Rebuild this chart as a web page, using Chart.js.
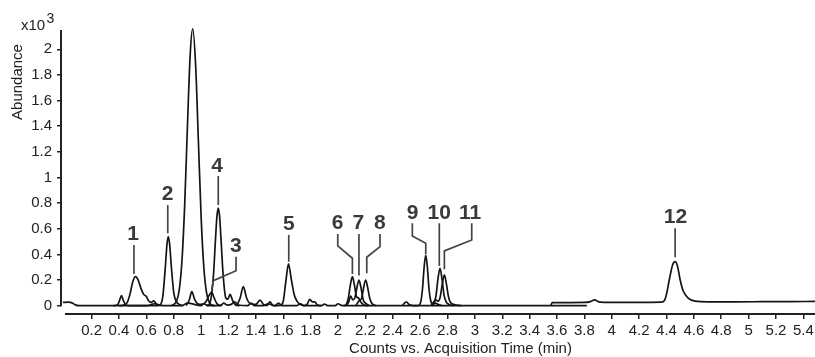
<!DOCTYPE html>
<html>
<head>
<meta charset="utf-8">
<script src="https://cdn.jsdelivr.net/npm/chart.js@4.4.1/dist/chart.umd.min.js"></script>
<style>
  html, body { margin: 0; padding: 0; background: #fff; }
  #wrap { width: 815px; height: 357px; position: relative; }
</style>
</head>
<body>
<div id="wrap"><canvas id="c"></canvas></div>
<script>
// Extracted ion chromatograms: acquisition time (min) and abundance (x10^3)
const baseTime  = [-0.01, 0.03, 0.06, 0.085, 0.11, 0.6, 0.66, 0.70, 0.74, 0.86, 0.90, 1.00, 1.02, 1.05, 1.14, 1.165, 1.19, 1.22, 1.245, 1.27, 1.34, 1.365, 1.39, 1.46, 1.485, 1.54, 1.565, 1.59, 1.70, 1.725, 1.75, 1.88, 1.90, 1.93, 1.98, 2.0, 2.03, 2.4, 3.0, 3.5, 3.818];
const baseAbund = [0.026, 0.027, 0.02, 0.004, 0, 0, 0.015, 0.004, 0, 0, 0.02, 0, 0.015, 0, 0, 0.02, 0.005, 0.01, 0.03, 0.005, 0, 0.02, 0, 0, 0.015, 0, 0.02, 0, 0, 0.015, 0, 0, 0.012, 0, 0, 0.015, 0, 0, 0, 0, 0];

const eic1Time  = [0.40, 0.44, 0.46, 0.48, 0.50, 0.52, 0.54, 0.56, 0.58, 0.60, 0.615, 0.635, 0.653, 0.675, 0.71];
const eic1Abund = [0, 0.006, 0.025, 0.09, 0.185, 0.226, 0.2, 0.135, 0.088, 0.072, 0.04, 0.025, 0.037, 0.01, 0];

const eic2Time  = [0.36, 0.39, 0.405, 0.418, 0.432, 0.45, 0.48, 0.68, 0.70, 0.72, 0.74, 0.75, 0.76, 0.77, 0.78, 0.80, 0.82, 0.84, 0.87];
const eic2Abund = [0, 0.008, 0.045, 0.078, 0.04, 0.005, 0, 0, 0.006, 0.073, 0.327, 0.476, 0.539, 0.476, 0.335, 0.1, 0.03, 0.01, 0];

const eicMajorTime  = [0.78, 0.80, 0.82, 0.84, 0.86, 0.88, 0.90, 0.92, 0.938, 0.96, 0.98, 1.00, 1.02, 1.04, 1.06, 1.08, 1.10];
const eicMajorAbund = [0, 0.01, 0.034, 0.124, 0.354, 0.794, 1.406, 1.961, 2.16, 1.87, 1.278, 0.689, 0.292, 0.098, 0.026, 0.005, 0];

const eic3Time  = [0.89, 0.912, 0.932, 0.952, 0.975, 1.0, 1.035, 1.058, 1.077, 1.095, 1.118, 1.15];
const eic3Abund = [0, 0.04, 0.109, 0.05, 0.015, 0.01, 0.03, 0.08, 0.105, 0.06, 0.012, 0];

const eic4Time  = [1.04, 1.05, 1.07, 1.09, 1.105, 1.115, 1.125, 1.135, 1.145, 1.16, 1.18, 1.195, 1.211, 1.23, 1.25, 1.28];
const eic4Abund = [0, 0.004, 0.044, 0.239, 0.521, 0.693, 0.761, 0.693, 0.521, 0.25, 0.06, 0.05, 0.089, 0.04, 0.006, 0];

const eic5Time  = [1.26, 1.285, 1.308, 1.332, 1.36, 1.40, 1.43, 1.455, 1.48, 1.503, 1.525, 1.58, 1.60, 1.62, 1.638, 1.658, 1.68, 1.70, 1.72, 1.75, 1.775, 1.794, 1.812, 1.83, 1.85, 1.88];
const eic5Abund = [0, 0.06, 0.148, 0.06, 0.015, 0.01, 0.044, 0.01, 0, 0.03, 0, 0.003, 0.035, 0.2, 0.326, 0.21, 0.085, 0.035, 0.012, 0, 0.012, 0.05, 0.03, 0.03, 0.005, 0];

const eic6Time  = [2.04, 2.06, 2.075, 2.09, 2.105, 2.12, 2.135, 2.15, 2.165, 2.19, 2.22];
const eic6Abund = [0, 0.01, 0.056, 0.16, 0.226, 0.16, 0.07, 0.06, 0.03, 0.005, 0];

const eic7Time  = [2.06, 2.078, 2.092, 2.108, 2.123, 2.138, 2.153, 2.168, 2.183, 2.20, 2.23];
const eic7Abund = [0, 0.03, 0.075, 0.045, 0.06, 0.14, 0.2, 0.14, 0.05, 0.02, 0];

const eic8Time  = [2.13, 2.155, 2.172, 2.187, 2.202, 2.217, 2.232, 2.25, 2.28];
const eic8Abund = [0, 0.04, 0.056, 0.14, 0.2, 0.14, 0.056, 0.015, 0];

const eic9Time  = [2.47, 2.498, 2.52, 2.55, 2.58, 2.593, 2.605, 2.617, 2.629, 2.641, 2.653, 2.665, 2.677, 2.69, 2.71, 2.73, 2.76];
const eic9Abund = [0, 0.03, 0.01, 0, 0, 0.004, 0.031, 0.128, 0.298, 0.395, 0.298, 0.13, 0.04, 0.015, 0.02, 0.01, 0];

const eic10Time  = [2.685, 2.70, 2.715, 2.73, 2.745, 2.76, 2.775, 2.79, 2.81, 2.84];
const eic10Abund = [0, 0.013, 0.073, 0.206, 0.292, 0.206, 0.08, 0.03, 0.01, 0];

const eic11Time  = [2.68, 2.70, 2.715, 2.732, 2.747, 2.762, 2.777, 2.792, 2.807, 2.822, 2.85, 2.90];
const eic11Abund = [0, 0.03, 0.045, 0.035, 0.07, 0.17, 0.24, 0.17, 0.07, 0.025, 0.008, 0];

const eic12Time  = [3.555, 3.565, 3.70, 3.80, 3.845, 3.875, 3.905, 3.95, 4.05, 4.2, 4.36, 4.385, 4.40, 4.42, 4.445, 4.463, 4.48, 4.50, 4.52, 4.545, 4.57, 4.61, 4.7, 4.9, 5.1, 5.3, 5.485];
const eic12Abund = [0, 0.024, 0.024, 0.025, 0.032, 0.045, 0.03, 0.026, 0.025, 0.025, 0.027, 0.04, 0.09, 0.2, 0.32, 0.344, 0.31, 0.2, 0.12, 0.075, 0.05, 0.035, 0.03, 0.03, 0.031, 0.032, 0.033];

// Axis ticks
const xTickValues = [0.2, 0.4, 0.6, 0.8, 1, 1.2, 1.4, 1.6, 1.8, 2, 2.2, 2.4, 2.6, 2.8, 3, 3.2, 3.4, 3.6, 3.8, 4, 4.2, 4.4, 4.6, 4.8, 5, 5.2, 5.4];
const yTickValues = [0, 0.2, 0.4, 0.6, 0.8, 1, 1.2, 1.4, 1.6, 1.8, 2];

// Peak numbers and their leader lines, in (time, abundance) coordinates
const peakLabels = [
  { text: '1',  at: [0.502, 0.559], leader: [[0.509, 0.473], [0.509, 0.247]] },
  { text: '2',  at: [0.754, 0.866], leader: [[0.756, 0.785], [0.756, 0.565]] },
  { text: '3',  at: [1.253, 0.467], leader: [[1.255, 0.382], [1.255, 0.273], [1.089, 0.195], [1.077, 0.12]] },
  { text: '4',  at: [1.117, 1.091], leader: [[1.125, 1.012], [1.125, 0.785]] },
  { text: '5',  at: [1.640, 0.636], leader: [[1.640, 0.552], [1.640, 0.343]] },
  { text: '6',  at: [1.996, 0.643], leader: [[1.998, 0.559], [1.998, 0.466], [2.105, 0.37], [2.105, 0.247]] },
  { text: '7',  at: [2.148, 0.643], leader: [[2.153, 0.559], [2.153, 0.235]] },
  { text: '8',  at: [2.305, 0.643], leader: [[2.307, 0.559], [2.307, 0.46], [2.21, 0.378], [2.21, 0.253]] },
  { text: '9',  at: [2.544, 0.721], leader: [[2.543, 0.643], [2.543, 0.544], [2.641, 0.487], [2.641, 0.403]] },
  { text: '10', at: [2.740, 0.721], leader: [[2.740, 0.643], [2.740, 0.31]] },
  { text: '11', at: [2.965, 0.721], leader: [[2.977, 0.643], [2.977, 0.512], [2.777, 0.427], [2.777, 0.284]] },
  { text: '12', at: [4.465, 0.690], leader: [[4.463, 0.604], [4.463, 0.378]] }
];

const traces = [
  [baseTime, baseAbund], [eic1Time, eic1Abund], [eic2Time, eic2Abund],
  [eicMajorTime, eicMajorAbund], [eic3Time, eic3Abund], [eic4Time, eic4Abund],
  [eic5Time, eic5Abund], [eic6Time, eic6Abund], [eic7Time, eic7Abund],
  [eic8Time, eic8Abund], [eic9Time, eic9Abund], [eic10Time, eic10Abund],
  [eic11Time, eic11Abund], [eic12Time, eic12Abund]
];

const FONT = '"Liberation Sans", Arial, Helvetica, sans-serif';
const INK = '#141414';
const TEXT = '#222';

const datasets = traces.map(([t, a]) => ({
  data: t.map((v, i) => ({ x: v, y: a[i] })),
  borderColor: INK,
  borderWidth: 1.7,
  pointRadius: 0,
  fill: false,
  cubicInterpolationMode: 'monotone'
}));

const decorations = {
  id: 'decorations',
  afterDraw(chart) {
    const { ctx, chartArea, scales: { x, y } } = chart;
    ctx.save();
    // axis lines
    ctx.strokeStyle = TEXT;
    ctx.lineWidth = 2;
    ctx.beginPath();
    ctx.moveTo(chartArea.left, y.getPixelForValue(2.15));
    ctx.lineTo(chartArea.left, y.getPixelForValue(0) + 0.5);
    ctx.moveTo(x.getPixelForValue(0.005), chartArea.bottom);
    ctx.lineTo(chartArea.right, chartArea.bottom);
    ctx.stroke();

    // peak leaders and numbers
    ctx.strokeStyle = '#444';
    ctx.lineWidth = 1.7;
    ctx.fillStyle = '#3a3a3a';
    ctx.font = 'bold 21px ' + FONT;
    ctx.textAlign = 'center';
    ctx.textBaseline = 'middle';
    peakLabels.forEach(p => {
      ctx.beginPath();
      p.leader.forEach(([t, a], i) => {
        const px = x.getPixelForValue(t), py = y.getPixelForValue(a);
        if (i === 0) ctx.moveTo(px, py); else ctx.lineTo(px, py);
      });
      ctx.stroke();
      ctx.fillText(p.text, x.getPixelForValue(p.at[0]), y.getPixelForValue(p.at[1]));
    });

    // axis titles
    ctx.fillStyle = TEXT;
    ctx.font = '15px ' + FONT;
    ctx.textAlign = 'center';
    ctx.textBaseline = 'alphabetic';
    ctx.fillText('Counts vs. Acquisition Time (min)', 460.5, 352.5);

    ctx.save();
    ctx.translate(18, 82);
    ctx.rotate(-Math.PI / 2);
    ctx.textBaseline = 'middle';
    ctx.fillText('Abundance', 0, 0);
    ctx.restore();

    ctx.textAlign = 'left';
    ctx.font = '15px ' + FONT;
    ctx.fillText('x10', 21, 29.5);
    ctx.font = '14px ' + FONT;
    ctx.fillText('3', 46.5, 23);
    ctx.restore();
  }
};

new Chart(document.getElementById('c'), {
  type: 'line',
  data: { datasets },
  plugins: [decorations],
  options: {
    responsive: true,
    maintainAspectRatio: false,
    devicePixelRatio: 1,
    animation: false,
    layout: { padding: { top: 23.7, right: 0, bottom: 0, left: 0 } },
    plugins: { legend: { display: false }, tooltip: { enabled: false } },
    scales: {
      x: {
        type: 'linear',
        min: -0.024,
        max: 5.485,
        border: { display: false },
        grid: { drawOnChartArea: false, drawTicks: true, tickLength: 5, color: TEXT, lineWidth: 1.5 },
        ticks: {
          autoSkip: false, maxRotation: 0, minRotation: 0, padding: 3,
          color: TEXT, font: { family: FONT, size: 15 },
          callback: v => String(Number(v.toFixed(1)))
        },
        afterBuildTicks: s => { s.ticks = xTickValues.map(v => ({ value: v })); },
        afterFit: s => { s.height = 43; s.paddingLeft = 0; s.paddingRight = 0; }
      },
      y: {
        type: 'linear',
        min: -0.065,
        max: 2.2,
        border: { display: false },
        grid: { drawOnChartArea: false, drawTicks: true, tickLength: 4, color: TEXT, lineWidth: 1.5 },
        ticks: {
          padding: 5, color: TEXT, font: { family: FONT, size: 15 },
          callback: v => String(Number(v.toFixed(1)))
        },
        afterBuildTicks: s => { s.ticks = yTickValues.map(v => ({ value: v })); },
        afterFit: s => { s.width = 61; s.paddingTop = 0; s.paddingBottom = 0; }
      }
    }
  }
});
</script>
</body>
</html>
